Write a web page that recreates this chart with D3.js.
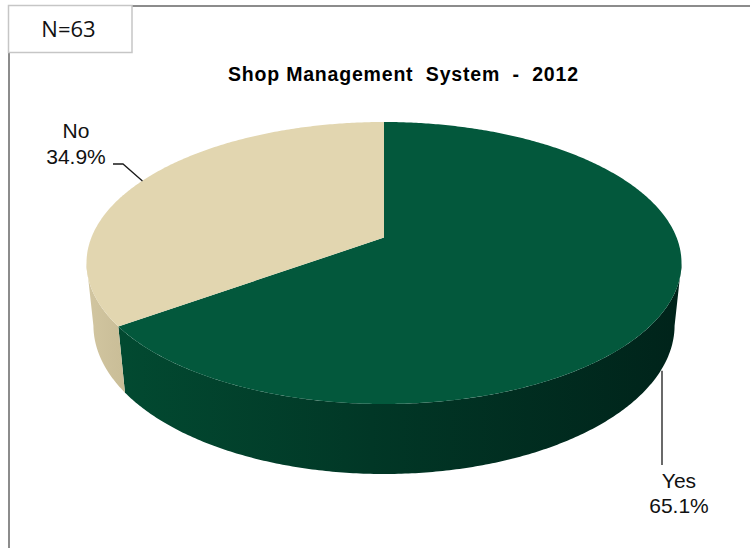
<!DOCTYPE html>
<html>
<head>
<meta charset="utf-8">
<script src="https://cdn.jsdelivr.net/npm/d3@7"></script>
<style>
  html, body { margin: 0; padding: 0; background: #fff; }
  svg { display: block; }
</style>
</head>
<body>
<svg id="chart" width="750" height="548"></svg>
<script>
// ---- data ----
const categories = ["Yes", "No"];
const percentages = [65.1, 34.9];
const sliceColors = ["#03583c", "#e2d6b0"];
const titleText = "Shop Management  System  -  2012";
const sampleLabel = "N=63";

// ---- 3D pie geometry (perspective-projected cylinder) ----
const cx = 384, topY = 122, botY = 404, halfW = 297.5, k = 0.18, frontBottom = 474;
const A = (botY - topY) * (1 - k * k) / 2;
const cy = topY + A / (1 + k);
const B = halfW * Math.sqrt(1 - k * k);
const sinP = A / B, cosP = Math.sqrt(1 - sinP * sinP);
const dist = cosP / k;
const focal = B * dist;
const Dfront = frontBottom - cy;
const h = (Dfront * (dist - cosP) - focal * sinP) / (focal * cosP - Dfront * sinP);

// theta measured clockwise from the far (top) point of the disc
function proj(theta, level) {
  const X = Math.sin(theta), Z = Math.cos(theta), Y = level;
  const depth = dist + Z * cosP - Y * sinP;
  const up = Y * cosP + Z * sinP;
  return [cx + focal * X / depth, cy - focal * up / depth];
}

function arcPoints(a, b, level) {
  const n = Math.max(2, Math.ceil(Math.abs(b - a) / 0.01));
  return d3.range(n + 1).map(i => proj(a + (b - a) * i / n, level));
}

const svg = d3.select("#chart");
const line = d3.line();

const pie = d3.pie().sort(null).value(d => d)(percentages);

// visible range of the cylinder wall
const visA = Math.acos(-k), visB = 2 * Math.PI - visA;

const defs = svg.append("defs");
const gGreen = defs.append("linearGradient")
  .attr("id", "sideGreen").attr("gradientUnits", "userSpaceOnUse")
  .attr("x1", 115).attr("x2", 685).attr("y1", 0).attr("y2", 0);
gGreen.append("stop").attr("offset", 0).attr("stop-color", "#024a31");
gGreen.append("stop").attr("offset", 0.45).attr("stop-color", "#013726");
gGreen.append("stop").attr("offset", 1).attr("stop-color", "#00231a");
const gCream = defs.append("linearGradient")
  .attr("id", "sideCream").attr("gradientUnits", "userSpaceOnUse")
  .attr("x1", 85).attr("x2", 125).attr("y1", 0).attr("y2", 0);
gCream.append("stop").attr("offset", 0).attr("stop-color", "#d2c6a1");
gCream.append("stop").attr("offset", 1).attr("stop-color", "#c9bd97");
const sideFills = ["url(#sideGreen)", "url(#sideCream)"];

// ---- frame ----
svg.append("path")
  .attr("d", "M9,548 L9,6 L750,6")
  .attr("fill", "none").attr("stroke", "#8c8c8c").attr("stroke-width", 2);
svg.append("rect")
  .attr("x", 8.5).attr("y", 5.5).attr("width", 123.5).attr("height", 47)
  .attr("fill", "#fff").attr("stroke", "#c6c6c6").attr("stroke-width", 1.5);
svg.append("text")
  .attr("x", 68.5).attr("y", 37).attr("text-anchor", "middle")
  .attr("font-family", "'Open Sans', sans-serif").attr("font-size", 22)
  .attr("fill", "#111").text(sampleLabel);

// ---- title ----
svg.append("text")
  .attr("x", 403).attr("y", 81).attr("text-anchor", "middle")
  .attr("font-family", "'Liberation Sans', Arial, sans-serif")
  .attr("font-weight", "bold").attr("font-size", 19.5)
  .attr("textLength", 350).attr("lengthAdjust", "spacing")
  .style("white-space", "pre")
  .attr("fill", "#000").text(titleText);

// ---- side walls ----
pie.forEach((s, i) => {
  const a = Math.max(s.startAngle, visA), b = Math.min(s.endAngle, visB);
  if (b <= a) return;
  const pts = arcPoints(a, b, 0).concat(arcPoints(b, a, -h));
  svg.append("path").attr("d", line(pts) + "Z").attr("fill", sideFills[i]);
});

// ---- top faces ----
pie.forEach((s, i) => {
  const pts = [[cx, cy]].concat(arcPoints(s.startAngle, s.endAngle, 0));
  svg.append("path").attr("d", line(pts) + "Z").attr("fill", sliceColors[i]);
});

// ---- labels with leader lines ----
const labelFont = "'Liberation Sans', Arial, sans-serif";
const fmt = d3.format(".1f");

// "Yes" slice: leader from the bottom rim down to the label
{
  const s = pie[0];
  const mid = (s.startAngle + s.endAngle) / 2;
  const p = proj(mid, -h);
  const lx = 662;
  svg.append("path").attr("d", line([[lx, Math.max(p[1], 360)], [lx, 465]]))
    .attr("stroke", "#1a1a1a").attr("stroke-width", 1.3).attr("fill", "none");
  const g = svg.append("g").attr("font-family", labelFont).attr("font-size", 21).attr("fill", "#111");
  g.append("text").attr("x", 679).attr("y", 488).attr("text-anchor", "middle").text(categories[0]);
  g.append("text").attr("x", 679).attr("y", 513).attr("text-anchor", "middle").text(fmt(percentages[0]) + "%");
}

// "No" slice: leader from the top rim up to the label
{
  const s = pie[1];
  const mid = (s.startAngle + s.endAngle) / 2;
  const p = proj(mid, 0);
  svg.append("path").attr("d", line([[p[0] - 1, p[1] + 1], [123, 164], [113, 164]]))
    .attr("stroke", "#1a1a1a").attr("stroke-width", 1.3).attr("fill", "none");
  const g = svg.append("g").attr("font-family", labelFont).attr("font-size", 21).attr("fill", "#111");
  g.append("text").attr("x", 76).attr("y", 138).attr("text-anchor", "middle").text(categories[1]);
  g.append("text").attr("x", 76).attr("y", 164).attr("text-anchor", "middle").text(fmt(percentages[1]) + "%");
}
</script>
</body>
</html>
